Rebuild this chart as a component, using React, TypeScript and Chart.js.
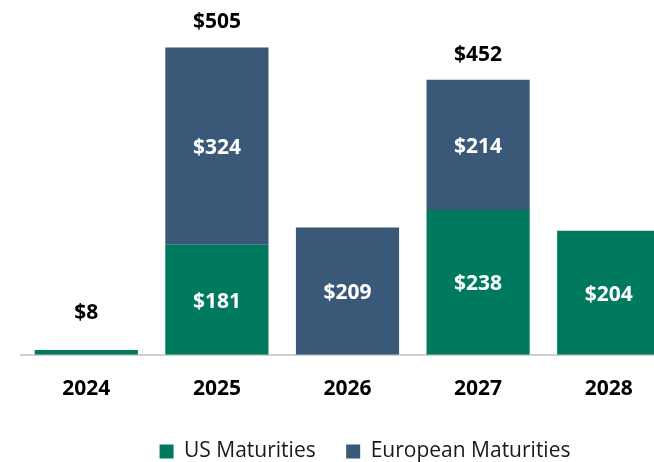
import React, { useEffect, useRef } from "react";
import { Chart, registerables } from "chart.js";

Chart.register(...registerables);

const categories = ["2024", "2025", "2026", "2027", "2028"];
const usMaturities = [8, 181, 0, 238, 204];
const europeanMaturities = [0, 324, 209, 214, 0];
const totalLabels = ["", "$505", "", "$452", ""];
const seriesNames = ["US Maturities", "European Maturities"];

const GREEN = "#007A5E";
const BLUE = "#3A5877";
const FONT = "'Open Sans', 'Noto Sans', sans-serif";

const labelPlugin = {
  id: "barLabels",
  afterDatasetsDraw(chart: any) {
    const ctx = chart.ctx;
    ctx.save();
    ctx.textAlign = "center";
    ctx.textBaseline = "middle";
    ctx.font = `bold 21px ${FONT}`;
    chart.data.datasets.forEach((ds: any, di: number) => {
      const meta = chart.getDatasetMeta(di);
      meta.data.forEach((bar: any, i: number) => {
        const v = ds.data[i];
        if (!v) return;
        const top = Math.min(bar.y, bar.base);
        const h = Math.abs(bar.base - bar.y);
        if (h < 30) {
          ctx.fillStyle = "#000";
          ctx.fillText("$" + v, bar.x, top - 37);
        } else {
          ctx.fillStyle = "#fff";
          ctx.fillText("$" + v, bar.x, top + h / 2 + 2);
        }
      });
    });
    const lastMeta = chart.getDatasetMeta(chart.data.datasets.length - 1);
    const firstMeta = chart.getDatasetMeta(0);
    totalLabels.forEach((t, i) => {
      if (!t) return;
      const y = Math.min(lastMeta.data[i].y, firstMeta.data[i].y);
      ctx.fillStyle = "#000";
      ctx.fillText(t, lastMeta.data[i].x, y - 25);
    });
    ctx.restore();
  },
};

export default function App() {
  const ref = useRef<HTMLCanvasElement>(null);
  useEffect(() => {
    if (!ref.current) return;
    const chart = new Chart(ref.current, {
      type: "bar",
      data: {
        labels: categories,
        datasets: [
          { label: seriesNames[0], data: usMaturities, backgroundColor: GREEN, barPercentage: 1, categoryPercentage: 0.79 },
          { label: seriesNames[1], data: europeanMaturities, backgroundColor: BLUE, barPercentage: 1, categoryPercentage: 0.79 },
        ],
      },
      options: {
        animation: false,
        responsive: false,
        maintainAspectRatio: false,
        layout: { padding: { top: 14, left: 21, right: 21, bottom: 0 } },
        plugins: {
          tooltip: { enabled: false },
          legend: {
            position: "bottom",
            labels: {
              font: { family: FONT, size: 21 },
              color: "#1A1A1A",
              boxWidth: 14,
              boxHeight: 14,
              padding: 25,
              generateLabels: (c: any) => {
                const items = Chart.defaults.plugins.legend.labels.generateLabels(c);
                items.forEach((it: any, idx: number) => {
                  if (idx === 0) it.text = it.text + " ";
                  it.lineWidth = 0;
                });
                return items;
              },
            },
          },
        },
        scales: {
          x: {
            stacked: true,
            grid: { display: false },
            border: { color: "#D0D0D0", width: 2 },
            ticks: { font: { family: FONT, size: 21, weight: "bold" }, color: "#000", padding: 14 },
          },
          y: {
            stacked: true,
            position: "right",
            display: true,
            min: 0,
            max: 560,
            grid: { display: false },
            border: { display: false },
            ticks: { display: false },
            afterFit: (s: any) => {
              s.width = 35;
            },
          },
        },
      },
      plugins: [labelPlugin],
    });
    return () => chart.destroy();
  }, []);
  return (
    <div style={{ position: "fixed", left: 0, top: 0, width: 654, height: 462, overflow: "hidden", background: "#fff" }}>
      <canvas ref={ref} width={730} height={472} style={{ display: "block" }} />
    </div>
  );
}
